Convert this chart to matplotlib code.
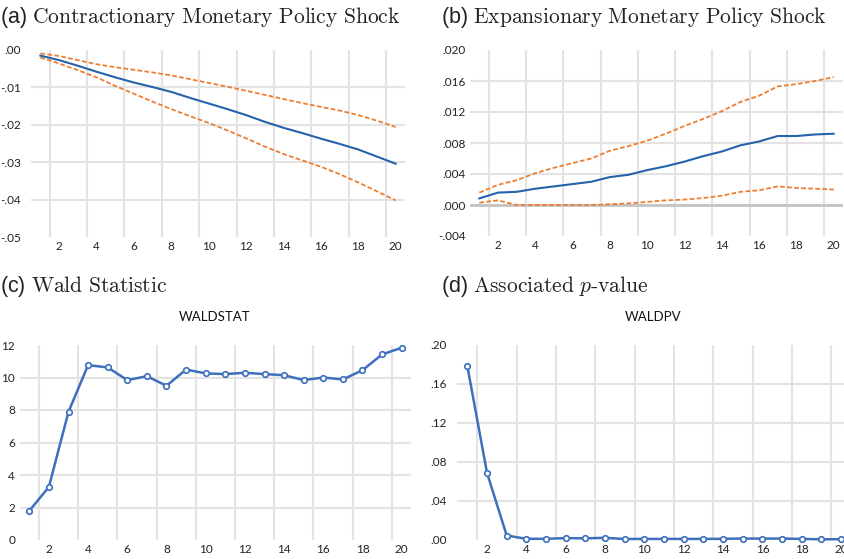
import numpy as np
import matplotlib
matplotlib.use("Agg")
import matplotlib.pyplot as plt

plt.rcParams['mathtext.fontset'] = 'cm'
TICK_FONT = 'Lato'
TICK_SIZE = 8.5
GRID_C = '#e3e3e3'
BLUE = '#2563ad'
BLUE2 = '#3d6fbd'
ORANGE = '#ed7d31'

steps = np.arange(1, 21)

# (a) contractionary shock: response and bands
con_irf = [-0.0015, -0.0027, -0.0042, -0.0058, -0.0073, -0.0087, -0.0099, -0.0112, -0.0128, -0.0143,
           -0.0158, -0.0174, -0.0192, -0.0208, -0.0222, -0.0237, -0.0251, -0.0266, -0.0285, -0.0304]
con_up = [-0.0009, -0.0016, -0.0027, -0.0038, -0.0046, -0.0053, -0.0060, -0.0068, -0.0078, -0.0088,
          -0.0098, -0.0109, -0.0120, -0.0131, -0.0142, -0.0152, -0.0162, -0.0174, -0.0189, -0.0206]
con_lo = [-0.0020, -0.0036, -0.0054, -0.0073, -0.0096, -0.0117, -0.0138, -0.0158, -0.0177, -0.0195,
          -0.0215, -0.0236, -0.0258, -0.0278, -0.0295, -0.0312, -0.0332, -0.0354, -0.0378, -0.0402]

# (b) expansionary shock
exp_irf = [0.00085, 0.0016, 0.0017, 0.0021, 0.0024, 0.0027, 0.0030, 0.0036, 0.0039, 0.0045,
           0.0050, 0.0056, 0.0063, 0.0069, 0.0077, 0.0082, 0.0089, 0.0089, 0.0091, 0.0092]
exp_up = [0.0016, 0.0026, 0.0032, 0.0041, 0.0048, 0.0054, 0.0060, 0.0070, 0.0076, 0.0083,
          0.0092, 0.0102, 0.0111, 0.0121, 0.0133, 0.0141, 0.0153, 0.0156, 0.0160, 0.0165]
exp_lo = [0.0003, 0.0006, 0.0000, 0.0000, 0.0000, 0.0000, 0.0000, 0.0001, 0.0002, 0.0004,
          0.0006, 0.0007, 0.0009, 0.0012, 0.0017, 0.0019, 0.0024, 0.0022, 0.0021, 0.0020]

# (c) Wald statistic, (d) p-value
waldstat = [1.79, 3.27, 7.89, 10.76, 10.62, 9.84, 10.08, 9.49, 10.49, 10.25,
            10.21, 10.29, 10.21, 10.14, 9.84, 10.00, 9.88, 10.45, 11.42, 11.83]
waldpv = [0.1778, 0.0684, 0.0041, 0.0007, 0.0007, 0.0014, 0.0012, 0.0017, 0.0005, 0.0006,
          0.0006, 0.0006, 0.0006, 0.0007, 0.0010, 0.0009, 0.0010, 0.0006, 0.0002, 0.0003]

W, H = 845, 559
fig = plt.figure(figsize=(W / 100, H / 100), dpi=100)


def px_axes(l, t, r, b):
    return fig.add_axes([l / W, 1 - b / H, (r - l) / W, (b - t) / H])


def dotfmt(v, nd):
    s = f"{v:.{nd}f}"
    return s.replace('0.', '.', 1) if abs(v) < 1 else s


def style(ax, yticks, nd, ypad):
    ax.set_xlim(0.5, 20.5)
    ax.set_ylim(yticks[0], yticks[-1])
    ax.set_xticks(np.arange(2, 21, 2))
    ax.set_xticklabels([str(i) for i in range(2, 21, 2)], fontsize=TICK_SIZE, family=TICK_FONT, color='#222222')
    ax.set_xticks(np.arange(1.5, 20, 2), minor=True)
    ax.grid(which='minor', axis='x', color=GRID_C, lw=1.5)
    ax.tick_params(which='both', length=0)
    ax.tick_params(axis='x', pad=3)
    ax.tick_params(axis='y', pad=ypad)
    ax.set_yticks(yticks)
    if nd is None:
        lab = [str(int(v)) for v in yticks]
    else:
        lab = [dotfmt(v, nd) for v in yticks]
    ax.set_yticklabels(lab, fontsize=TICK_SIZE, family=TICK_FONT, color='#222222')
    for v in yticks[1:-1]:
        ax.axhline(v, color=GRID_C, lw=1.5, zorder=0)
    for s in ax.spines.values():
        s.set_visible(False)
    ax.set_axisbelow(True)


ds = (0, (2.6, 1.3))

# (a)
ax1 = px_axes(31, 50, 405, 237)
style(ax1, np.round(np.arange(-0.05, 0.0001, 0.01), 3), 2, 7)
ax1.plot(steps, con_up, color=ORANGE, lw=1.3, ls=ds)
ax1.plot(steps, con_lo, color=ORANGE, lw=1.3, ls=ds)
ax1.plot(steps, con_irf, color=BLUE, lw=1.5)

# (b)
ax2 = px_axes(470, 50, 843, 236)
style(ax2, np.round(np.arange(-0.004, 0.0201, 0.004), 3), 3, 3)
ax2.axhline(0, color='#c4c4c4', lw=2.0, zorder=1)
ax2.plot(steps, exp_up, color=ORANGE, lw=1.3, ls=ds)
ax2.plot(steps, exp_lo, color=ORANGE, lw=1.3, ls=ds)
ax2.plot(steps, exp_irf, color=BLUE, lw=1.5)

# (c)
ax3 = px_axes(19.5, 345, 411.5, 540)
style(ax3, np.arange(0, 13, 2), None, 3.2)
ax3.plot(steps, waldstat, color=BLUE2, lw=1.8, marker='o', ms=4, mfc='white', mec=BLUE2, mew=1.2)

# (d)
ax4 = px_axes(457.5, 344.5, 851, 539.5)
style(ax4, np.round(np.arange(0, 0.2001, 0.04), 2), 2, 8)
ax4.plot(steps, waldpv, color=BLUE2, lw=1.8, marker='o', ms=4, mfc='white', mec=BLUE2, mew=1.2,
         clip_on=False)

# panel titles
tkw = dict(fontsize=15.5, family='Liberation Sans', va='baseline', ha='left', color='#222222')
fig.text(0 / W, 1 - 23 / H, r"(a) $\mathrm{Contractionary\ Monetary\ Policy\ Shock}$", **tkw)
fig.text(441 / W, 1 - 23 / H, r"(b) $\mathrm{Expansionary\ Monetary\ Policy\ Shock}$", **tkw)
fig.text(0 / W, 1 - 292 / H, r"(c) $\mathrm{Wald\ Statistic}$", **tkw)
fig.text(441 / W, 1 - 292 / H, r"(d) $\mathrm{Associated}\ p\text{-value}$", **tkw)

skw = dict(fontsize=9.5, family=TICK_FONT, ha='center', va='center', color='#111111')
fig.text(215 / W, 1 - 317 / H, "WALDSTAT", **skw)
fig.text(653 / W, 1 - 317 / H, "WALDPV", **skw)

fig.savefig("out.png", dpi=100)
